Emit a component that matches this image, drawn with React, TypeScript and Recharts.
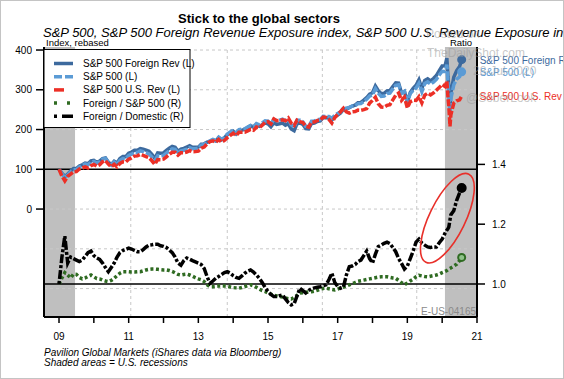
import React from 'react';
import { ComposedChart, Line, XAxis, YAxis, ReferenceArea, ReferenceLine, ReferenceDot } from 'recharts';

// ---- data ----
const monthlyDates = Array.from({ length: 134 }, (_, i) => 2009 + i / 12);
const lateDates = [2020.135, 2020.167, 2020.19, 2020.225, 2020.25, 2020.333, 2020.417, 2020.5, 2020.56];
const dates = [...monthlyDates, ...lateDates];

const spx = [
  100, 88.6, 78.9, 85.6, 93.7, 98.6, 98.7, 106.0, 109.5, 113.4, 111.2, 117.6,
  119.7, 115.2, 118.5, 125.5, 127.4, 116.9, 110.6, 118.2, 112.6, 122.5, 127.0, 126.7,
  135.0, 138.0, 142.4, 142.3, 146.3, 144.4, 141.7, 138.7, 130.8, 121.4, 134.5, 133.8,
  135.0, 140.8, 146.6, 151.2, 150.0, 140.6, 146.2, 148.0, 151.0, 154.6, 151.6, 152.0,
  153.1, 160.8, 162.6, 168.4, 171.5, 175.0, 172.4, 180.9, 175.2, 180.5, 188.5, 193.8,
  198.4, 191.3, 199.6, 200.9, 202.2, 206.4, 210.4, 207.2, 215.0, 211.7, 216.6, 221.9,
  221.0, 214.1, 225.9, 221.9, 223.8, 226.2, 221.4, 225.8, 211.7, 206.1, 223.2, 223.3,
  219.4, 208.2, 207.4, 221.1, 221.6, 225.0, 225.3, 233.3, 233.0, 232.7, 228.2, 236.0,
  240.3, 244.6, 253.7, 253.6, 255.9, 258.8, 260.1, 265.1, 265.3, 270.4, 276.4, 284.1,
  286.9, 303.0, 291.2, 283.4, 284.2, 290.3, 291.7, 302.2, 311.4, 312.7, 291.0, 296.2,
  269.0, 290.2, 298.8, 304.2, 316.1, 295.3, 315.7, 319.9, 314.1, 319.5, 326.0, 337.1,
  346.7, 346.2,
  363.4, 317.0, 294.8, 240.1, 277.4, 312.6, 326.7, 332.7, 345.1,
];

const foreignRev = [
  100.0, 90.4, 81.9, 88.2, 95.6, 101.9, 101.9, 108.3, 111.4, 115.7, 114.1, 121.1,
  122.6, 117.3, 120.5, 127.1, 128.7, 117.8, 111.9, 120.4, 115.8, 126.9, 132.2, 131.9,
  140.5, 143.5, 148.1, 148.1, 152.3, 150.8, 148.4, 145.5, 137.3, 127.5, 141.1, 140.2,
  141.3, 147.4, 153.2, 157.6, 155.6, 145.1, 150.6, 152.7, 156.0, 159.2, 155.5, 155.2,
  155.7, 163.1, 163.9, 168.1, 170.0, 173.4, 171.0, 179.6, 174.0, 179.2, 187.0, 191.9,
  196.0, 188.8, 196.8, 198.5, 200.4, 205.2, 209.8, 206.0, 212.6, 208.1, 211.8, 216.4,
  214.4, 206.8, 217.3, 213.0, 214.4, 216.2, 211.0, 214.7, 201.1, 196.8, 214.7, 216.6,
  213.0, 202.4, 201.8, 215.4, 216.3, 220.3, 221.5, 229.8, 229.7, 229.0, 224.1, 231.3,
  236.2, 241.4, 251.2, 251.8, 255.1, 259.1, 261.4, 267.5, 268.2, 273.9, 280.5, 288.9,
  292.4, 309.4, 297.9, 290.2, 291.0, 297.3, 298.1, 308.2, 317.3, 316.5, 292.2, 295.6,
  269.8, 293.1, 303.6, 311.5, 325.3, 303.3, 323.6, 327.6, 322.3, 328.4, 335.8, 348.2,
  359.9, 360.7,
  379.8, 332.2, 309.5, 252.6, 292.4, 331.4, 348.3, 358.7, 375.8,
];

const usRev = [
  100.0, 82.9, 70.6, 82.4, 87.7, 93.9, 94.3, 100.7, 103.1, 105.9, 103.3, 109.1,
  112.0, 107.9, 111.4, 118.8, 122.0, 113.2, 106.1, 112.5, 106.2, 114.8, 118.9, 118.2,
  125.4, 128.5, 133.2, 133.7, 137.5, 135.2, 132.0, 128.8, 121.4, 112.5, 124.5, 124.3,
  125.5, 131.4, 137.5, 142.6, 142.7, 135.6, 141.7, 141.7, 143.5, 147.0, 144.3, 144.5,
  145.5, 153.1, 155.8, 164.0, 169.7, 171.7, 167.8, 175.2, 168.6, 172.6, 179.6, 185.2,
  190.7, 184.7, 193.1, 193.3, 193.4, 196.7, 200.4, 198.1, 206.4, 204.2, 210.7, 219.0,
  219.9, 214.3, 226.8, 222.3, 223.1, 224.5, 222.1, 228.9, 216.2, 210.7, 223.6, 219.7,
  217.8, 208.7, 206.3, 218.9, 219.1, 222.8, 223.5, 231.2, 230.4, 225.6, 216.3, 230.1,
  238.1, 244.8, 253.7, 244.5, 241.1, 244.4, 245.4, 248.8, 248.3, 250.1, 252.7, 266.3,
  273.3, 281.3, 264.8, 256.8, 256.2, 260.8, 262.6, 274.7, 286.4, 291.7, 273.3, 281.5,
  254.5, 270.1, 273.5, 273.2, 282.9, 266.8, 286.4, 291.5, 287.3, 292.2, 298.8, 306.0,
  313.0, 308.3,
  321.9, 280.3, 260.1, 207.9, 237.3, 266.2, 272.1, 274.9, 284.5,
];

const foreignToSpx = [
  1.000, 1.020, 1.038, 1.030, 1.020, 1.033, 1.032, 1.022, 1.017, 1.020, 1.026, 1.030,
  1.024, 1.018, 1.017, 1.013, 1.010, 1.008, 1.012, 1.019, 1.028, 1.036, 1.041, 1.041,
  1.041, 1.040, 1.040, 1.041, 1.041, 1.044, 1.047, 1.049, 1.050, 1.050, 1.049, 1.048,
  1.047, 1.047, 1.045, 1.042, 1.037, 1.032, 1.030, 1.032, 1.033, 1.030, 1.026, 1.021,
  1.017, 1.014, 1.008, 0.998, 0.991, 0.991, 0.992, 0.993, 0.993, 0.993, 0.992, 0.990,
  0.988, 0.987, 0.986, 0.988, 0.991, 0.994, 0.997, 0.994, 0.989, 0.983, 0.978, 0.975,
  0.970, 0.966, 0.962, 0.960, 0.958, 0.956, 0.953, 0.951, 0.950, 0.955, 0.962, 0.970,
  0.971, 0.972, 0.973, 0.974, 0.976, 0.979, 0.983, 0.985, 0.986, 0.984, 0.982, 0.980,
  0.983, 0.987, 0.990, 0.993, 0.997, 1.001, 1.005, 1.009, 1.011, 1.013, 1.015, 1.017,
  1.019, 1.021, 1.023, 1.024, 1.024, 1.024, 1.022, 1.020, 1.019, 1.012, 1.004, 0.998,
  1.003, 1.010, 1.016, 1.024, 1.029, 1.027, 1.025, 1.024, 1.026, 1.028, 1.030, 1.033,
  1.038, 1.042,
  1.045, 1.048, 1.050, 1.052, 1.054, 1.060, 1.066, 1.078, 1.089,
];

const foreignToDomestic = [
  1.000, 1.090, 1.160, 1.070, 1.090, 1.085, 1.080, 1.075, 1.080, 1.092, 1.105, 1.110,
  1.095, 1.087, 1.082, 1.070, 1.055, 1.041, 1.055, 1.070, 1.090, 1.105, 1.112, 1.116,
  1.120, 1.117, 1.112, 1.108, 1.108, 1.115, 1.124, 1.130, 1.131, 1.133, 1.133, 1.128,
  1.126, 1.122, 1.114, 1.105, 1.090, 1.070, 1.063, 1.078, 1.087, 1.083, 1.078, 1.074,
  1.070, 1.065, 1.052, 1.025, 1.002, 1.010, 1.019, 1.025, 1.032, 1.038, 1.041, 1.036,
  1.028, 1.022, 1.019, 1.027, 1.036, 1.043, 1.047, 1.040, 1.030, 1.019, 1.005, 0.988,
  0.975, 0.965, 0.958, 0.958, 0.961, 0.963, 0.950, 0.938, 0.930, 0.934, 0.960, 0.986,
  0.978, 0.970, 0.978, 0.984, 0.987, 0.989, 0.991, 0.994, 0.997, 1.015, 1.036, 1.005,
  0.992, 0.986, 0.990, 1.030, 1.058, 1.060, 1.065, 1.075, 1.080, 1.095, 1.110, 1.085,
  1.070, 1.100, 1.125, 1.130, 1.136, 1.140, 1.135, 1.122, 1.108, 1.085, 1.069, 1.050,
  1.060, 1.085, 1.110, 1.140, 1.150, 1.137, 1.130, 1.124, 1.122, 1.124, 1.124, 1.138,
  1.150, 1.170,
  1.180, 1.185, 1.190, 1.215, 1.232, 1.245, 1.280, 1.305, 1.321,
];

const xTicks = [2009, 2010, 2011, 2012, 2013, 2014, 2015, 2016, 2017, 2018, 2019, 2020, 2021];
const leftTicks = [0, 100, 200, 300, 400];
const rightTicks = [1.0, 1.2, 1.4];
const recessions = [[2008.569, 2009.46], [2020.08, 2021]];
const gridYears = [2011.06, 2013.83, 2016.56, 2019.27];
const gridLevels = [400, 300, 200, 0, -100, -200];
const highlight = { x: 2020.15, y: 1.22 };

const seriesNames = [
  'S&P 500 Foreign Rev (L)',
  'S&P 500 (L)',
  'S&P 500 U.S. Rev (L)',
  'Foreign / S&P 500 (R)',
  'Foreign / Domestic (R)',
];

const rows = dates.map((d, i) => ({
  x: d,
  spx: spx[i],
  foreign: foreignRev[i],
  us: usRev[i],
  fs: foreignToSpx[i],
  fd: foreignToDomestic[i],
}));

// ---- styles ----
const FONT = '"Liberation Sans", Arial, sans-serif';
const C_FOREIGN = '#3d6a9e';
const C_SPX = '#5b9bd5';
const C_US = '#ec2f26';
const C_GREEN = '#2f6b22';
const C_BLACK = '#000000';
const LAST = dates.length - 1;

const endDot = (stroke: string, fill: string, r: number) => (p: any) => {
  if (p.index !== LAST) return <g key={`e${p.index}`} />;
  return <circle key={`e${p.index}`} cx={p.cx} cy={p.cy} r={r} fill={fill} stroke={stroke} strokeWidth={2} />;
};

const endLabel = (text: string, color: string) => (p: any) => {
  if (p.index !== LAST) return null;
  return (
    <text x={p.x + 18} y={p.y + 1} dy="0.35em" fontSize={10} fontFamily={FONT} fill={color}>
      {text}
    </text>
  );
};

const tickStyle = { fontSize: 10, fill: '#000', fontFamily: FONT };

export default function App() {
  const legendRowY = (i: number) => 63.5 + i * 13.2;
  return (
    <div style={{ position: 'absolute', left: 0, top: 0, width: 564, height: 379, background: '#fff' }}>
      <ComposedChart width={564} height={379} data={rows} margin={{ top: 47, right: 0, bottom: 0, left: 0 }}>
        <XAxis
          dataKey="x"
          type="number"
          domain={[2008.569, 2021]}
          ticks={xTicks}
          interval={0}
          allowDataOverflow
          tickFormatter={(v: number) => (v % 2 === 1 ? String(v % 100).padStart(2, '0') : '')}
          height={62}
          tickSize={6}
          tickMargin={10}
          tick={tickStyle}
          axisLine={{ stroke: '#000', strokeWidth: 2 }}
          tickLine={{ stroke: '#000', strokeWidth: 1.5 }}
        />
        <YAxis
          yAxisId="L"
          domain={[-271.5, 407.6]}
          ticks={leftTicks}
          interval={0}
          allowDataOverflow
          width={44}
          tickSize={8}
          tickMargin={4}
          tick={tickStyle}
          axisLine={{ stroke: '#000', strokeWidth: 2 }}
          tickLine={{ stroke: '#000', strokeWidth: 1.5 }}
        />
        <YAxis
          yAxisId="R"
          orientation="right"
          domain={[0.8896, 1.7926]}
          ticks={rightTicks}
          interval={0}
          allowDataOverflow
          width={87}
          tickSize={8}
          tickMargin={7}
          tick={tickStyle}
          tickFormatter={(v: number) => v.toFixed(1)}
          axisLine={{ stroke: '#000', strokeWidth: 2 }}
          tickLine={{ stroke: '#000', strokeWidth: 1.5 }}
        />

        {gridLevels.map((v) => (
          <ReferenceLine key={`gy${v}`} yAxisId="L" y={v} stroke="#c8c8c8" strokeDasharray="3 3" strokeWidth={1} />
        ))}
        {gridYears.map((v) => (
          <ReferenceLine key={`gx${v}`} yAxisId="L" x={v} stroke="#c8c8c8" strokeDasharray="3 3" strokeWidth={1} />
        ))}
        {recessions.map(([a, b]) => (
          <ReferenceArea key={`r${a}`} yAxisId="L" x1={a} x2={b} fill="#bfbfbf" fillOpacity={1} stroke="none" />
        ))}
        <ReferenceLine yAxisId="L" y={100} stroke="#000" strokeWidth={1.5} />
        <ReferenceLine yAxisId="R" y={1.0} stroke="#000" strokeWidth={1.5} />

        <Line
          yAxisId="L"
          dataKey="foreign"
          name={seriesNames[0]}
          stroke={C_FOREIGN}
          strokeWidth={3.5}
          dot={endDot(C_FOREIGN, C_FOREIGN, 3.5)}
          label={endLabel('S&P 500 Foreign Rev (L)', C_FOREIGN)}
          isAnimationActive={false}
        />
        <Line
          yAxisId="L"
          dataKey="spx"
          name={seriesNames[1]}
          stroke={C_SPX}
          strokeWidth={3.5}
          strokeDasharray="9 2"
          dot={endDot(C_SPX, C_SPX, 3.5)}
          label={endLabel('S&P 500 (L)', C_SPX)}
          isAnimationActive={false}
        />
        <Line
          yAxisId="L"
          dataKey="us"
          name={seriesNames[2]}
          stroke={C_US}
          strokeWidth={3.5}
          strokeDasharray="7 2"
          dot={false}
          label={endLabel('S&P 500 U.S. Rev (L)', C_US)}
          isAnimationActive={false}
        />
        <Line
          yAxisId="R"
          dataKey="fs"
          name={seriesNames[3]}
          stroke={C_GREEN}
          strokeWidth={3.5}
          strokeDasharray="3 2.5"
          dot={endDot(C_GREEN, '#8fc28a', 3.5)}
          isAnimationActive={false}
        />
        <Line
          yAxisId="R"
          dataKey="fd"
          name={seriesNames[4]}
          stroke={C_BLACK}
          strokeWidth={3.5}
          strokeDasharray="3 2 9 2"
          dot={endDot(C_BLACK, C_BLACK, 4)}
          isAnimationActive={false}
        />
        <ReferenceDot
          yAxisId="R"
          x={highlight.x}
          y={highlight.y}
          r={1}
          shape={(p: any) => (
            <ellipse
              cx={p.cx}
              cy={p.cy}
              rx={49}
              ry={18}
              fill="none"
              stroke="#e8302a"
              strokeWidth={1.6}
              transform={`rotate(-64 ${p.cx} ${p.cy})`}
            />
          )}
        />
      </ComposedChart>

      <svg
        width={564}
        height={379}
        style={{ position: 'absolute', left: 0, top: 0, pointerEvents: 'none' }}
        fontFamily={FONT}
      >
        <text x={259} y={23} textAnchor="middle" fontSize={13} fontWeight="bold" fill="#000">
          Stick to the global sectors
        </text>
        <text x={43} y={37} fontSize={13} fontStyle="italic" fill="#000">
          S&amp;P 500, S&amp;P 500 Foreign Revenue Exposure index, S&amp;P 500 U.S. Revenue Exposure index
        </text>
        <text x={46} y={46} fontSize={9.5} fill="#000">Index, rebased</text>
        <text x={461} y={46} textAnchor="middle" fontSize={9.5} fill="#000">Ratio</text>

        {/* watermark */}
        <g fill="#9a9a9a" fillOpacity={0.55} fontSize={12}>
          <text x={426} y={38}>Posted on</text>
          <text x={427} y={57}>TheDailyShot.com</text>
          <text x={473} y={75}>28-Jul-2020</text>
          <text x={466} y={102}>@SoberLook</text>
        </g>

        <text x={476} y={315} textAnchor="end" fontSize={10} fill="#8a8a8a">E-US-04165</text>

        {/* legend */}
        <rect x={44} y={49.5} width={146} height={78} fill="#fff" stroke="#000" strokeWidth={1} />
        <line x1={54} x2={73} y1={legendRowY(0)} y2={legendRowY(0)} stroke={C_FOREIGN} strokeWidth={3.5} />
        <line x1={54} x2={73} y1={legendRowY(1)} y2={legendRowY(1)} stroke={C_SPX} strokeWidth={3.5} strokeDasharray="8 3" />
        <line x1={54} x2={73} y1={legendRowY(2)} y2={legendRowY(2)} stroke={C_US} strokeWidth={3.5} strokeDasharray="10 10" />
        <line x1={54} x2={73} y1={legendRowY(3)} y2={legendRowY(3)} stroke={C_GREEN} strokeWidth={3.5} strokeDasharray="3 10" />
        <line x1={54} x2={73} y1={legendRowY(4)} y2={legendRowY(4)} stroke={C_BLACK} strokeWidth={3.5} strokeDasharray="3 5 11 5" />
        {seriesNames.map((n, i) => (
          <text key={n} x={83} y={legendRowY(i)} dy="0.35em" fontSize={10} fill="#000">
            {n}
          </text>
        ))}

        {/* footer */}
        <text x={44} y={356} fontSize={10} fontStyle="italic" fill="#000">
          Pavilion Global Markets (iShares data via Bloomberg)
        </text>
        <text x={44} y={366} fontSize={10} fontStyle="italic" fill="#000">
          Shaded areas = U.S. recessions
        </text>
      </svg>
      <div
        style={{
          position: 'absolute',
          left: 0,
          top: 0,
          width: 564,
          height: 379,
          boxSizing: 'border-box',
          border: '1px solid #c4c4c4',
          pointerEvents: 'none',
        }}
      />
    </div>
  );
}
